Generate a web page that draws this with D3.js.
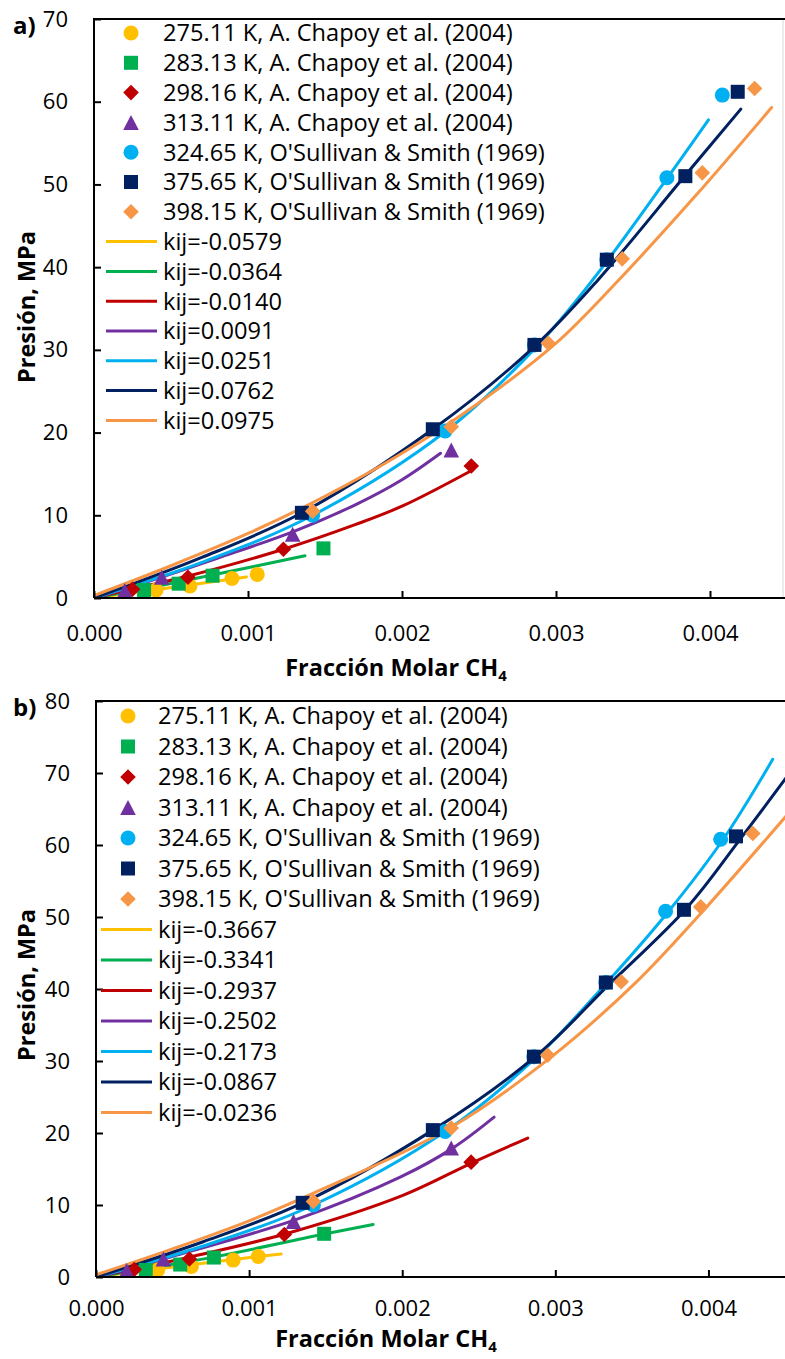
<!DOCTYPE html>
<html><head><meta charset="utf-8">
<script src="https://cdn.jsdelivr.net/npm/d3@7"></script>
<style>body{margin:0;background:#fff} svg{display:block;font-family:"Open Sans",sans-serif}</style>
</head><body>
<svg id="c" width="785" height="1359"></svg>
<script>
// ---------- Experimental data (same in both panels) ----------
const seriesLabels = [
  "275.11 K, A. Chapoy et al. (2004)",
  "283.13 K, A. Chapoy et al. (2004)",
  "298.16 K, A. Chapoy et al. (2004)",
  "313.11 K, A. Chapoy et al. (2004)",
  "324.65 K, O'Sullivan & Smith (1969)",
  "375.65 K, O'Sullivan & Smith (1969)",
  "398.15 K, O'Sullivan & Smith (1969)"
];
const seriesColors = ["#FFC000", "#00B050", "#C00000", "#7030A0", "#00B0F0", "#002060", "#F79646"];
const seriesShapes = ["circle", "square", "diamond", "triangle", "circle", "square", "diamond"];

const x_275 = [0.000403, 0.000623, 0.000896, 0.00106];
const p_275 = [0.97, 1.45, 2.35, 2.85];
const x_283 = [0.000325, 0.00055, 0.00077, 0.00149];
const p_283 = [0.97, 1.73, 2.7, 6.0];
const x_298 = [0.00025, 0.00061, 0.00123, 0.00245];
const p_298 = [1.05, 2.5, 5.9, 15.95];
const x_313 = [0.0002, 0.00044, 0.00129, 0.00232];
const p_313 = [0.9, 2.5, 7.7, 17.9];
const x_324 = [0.00142, 0.00228, 0.00286, 0.00333, 0.00372, 0.00408];
const p_324 = [10.0, 20.2, 30.6, 40.9, 50.8, 60.8];
const x_375 = [0.00135, 0.0022, 0.00286, 0.00333, 0.00384, 0.00418];
const p_375 = [10.3, 20.4, 30.6, 40.9, 51.0, 61.2];
const x_398 = [0.00142, 0.00232, 0.00295, 0.00343, 0.00395, 0.00429];
const p_398 = [10.5, 20.7, 30.8, 41.0, 51.4, 61.6];
const expX = [x_275, x_283, x_298, x_313, x_324, x_375, x_398];
const expP = [p_275, p_283, p_298, p_313, p_324, p_375, p_398];

// ---------- Model curves, panel a ----------
const kijA = ["kij=-0.0579", "kij=-0.0364", "kij=-0.0140", "kij=0.0091", "kij=0.0251", "kij=0.0762", "kij=0.0975"];
const a_x0 = [0, 0.0004, 0.00099];                 const a_p0 = [0, 1.0, 2.55];
const a_x1 = [0, 0.0004, 0.0008, 0.00137];         const a_p1 = [0, 1.4, 2.9, 5.1];
const a_x2 = [0, 0.00025, 0.0006, 0.00123, 0.0017, 0.002, 0.00244];
const a_p2 = [0, 1.1, 2.6, 5.9, 8.9, 11.1, 15.3];
const a_x3 = [0, 0.0004, 0.0008, 0.00129, 0.0017, 0.002, 0.00225];
const a_p3 = [0, 2.3, 4.8, 8.0, 11.3, 14.3, 17.5];
const a_x4 = [0, 0.0007, 0.00142, 0.00228, 0.00287, 0.00324, 0.00372, 0.00399];
const a_p4 = [0, 4.3, 10.0, 20.1, 30.3, 38.5, 50.7, 57.8];
const a_x5 = [0, 0.0007, 0.00135, 0.0022, 0.00286, 0.00327, 0.00384, 0.0042];
const a_p5 = [0, 4.9, 10.3, 20.4, 30.4, 38.4, 51.1, 59.1];
const a_x6 = [0, 0.0005, 0.001, 0.0015, 0.002, 0.0025, 0.003, 0.0034, 0.0039, 0.0044];
const a_p6 = [0.3, 3.9, 7.8, 12.3, 17.5, 23.6, 30.8, 38.3, 48.5, 59.3];

// ---------- Model curves, panel b ----------
const kijB = ["kij=-0.3667", "kij=-0.3341", "kij=-0.2937", "kij=-0.2502", "kij=-0.2173", "kij=-0.0867", "kij=-0.0236"];
const b_x0 = [0, 0.0004, 0.0008, 0.00121];         const b_p0 = [0, 1.1, 2.2, 3.2];
const b_x1 = [0, 0.0004, 0.0008, 0.0015, 0.00181]; const b_p1 = [0, 1.4, 2.9, 6.0, 7.3];
const b_x2 = [0, 0.00025, 0.0006, 0.00124, 0.002, 0.00246, 0.00282];
const b_p2 = [0, 1.1, 2.7, 6.0, 11.3, 15.9, 19.3];
const b_x3 = [0, 0.0002, 0.00044, 0.00131, 0.00199, 0.00233, 0.0026];
const b_p3 = [0, 1.0, 2.5, 8.0, 13.9, 17.9, 22.2];
const b_x4 = [0, 0.0007, 0.00142, 0.00228, 0.00287, 0.00332, 0.00374, 0.0041, 0.00442];
const b_p4 = [0, 4.3, 10.0, 20.2, 30.4, 40.5, 50.8, 60.9, 71.9];
const b_x5 = [0, 0.0007, 0.00135, 0.0022, 0.00288, 0.00334, 0.00386, 0.0042, 0.0046];
const b_p5 = [0, 4.9, 10.3, 20.4, 30.8, 40.4, 51.3, 60.6, 72.0];
const b_x6 = [0, 0.0005, 0.001, 0.0015, 0.00232, 0.00297, 0.00353, 0.00395, 0.0046];
const b_p6 = [0.3, 3.9, 7.8, 12.4, 20.8, 30.5, 41.0, 50.5, 66.3];

const xTicks = [0, 0.001, 0.002, 0.003, 0.004];
const yTicksA = [0, 10, 20, 30, 40, 50, 60, 70];
const yTicksB = [0, 10, 20, 30, 40, 50, 60, 70, 80];

const svg = d3.select("#c");

function symbolPath(shape) {
  if (shape === "circle") return "M7.5,0A7.5,7.5 0 1,1 -7.5,0A7.5,7.5 0 1,1 7.5,0Z";
  if (shape === "square") return "M-7,-7H7V7H-7Z";
  if (shape === "diamond") return "M0,-7.8L7.8,0L0,7.8L-7.8,0Z";
  return "M0,-7.5L7.8,7.5L-7.8,7.5Z";
}

function panel(cfg) {
  const g = svg.append("g");
  const x = d3.scaleLinear().domain([0, 0.0045]).range([cfg.left, cfg.right]);
  const y = d3.scaleLinear().domain([0, cfg.yMax]).range([cfg.bottom, cfg.top]);
  const clipId = "clip" + cfg.id;
  svg.append("clipPath").attr("id", clipId).append("rect")
    .attr("x", cfg.left).attr("y", cfg.top - 10).attr("width", cfg.right - cfg.left).attr("height", cfg.bottom - cfg.top + 10);

  if (cfg.rightEdge) {
    g.append("line").attr("x1", cfg.rightEdge).attr("x2", cfg.rightEdge)
      .attr("y1", cfg.top).attr("y2", cfg.bottom).attr("stroke", "#d9d9d9").attr("stroke-width", 1);
  }

  // model lines
  const lineGen = d3.line().x(d => x(d[0])).y(d => y(d[1])).curve(d3.curveCatmullRom.alpha(0.5));
  const lg = g.append("g").attr("clip-path", `url(#${clipId})`);
  cfg.lx.forEach((xs, i) => {
    lg.append("path").attr("d", lineGen(xs.map((v, j) => [v, cfg.lp[i][j]])))
      .attr("fill", "none").attr("stroke", seriesColors[i]).attr("stroke-width", 3)
      .attr("stroke-linecap", "round");
  });

  // markers (drawn on top of the lines)
  expX.forEach((xs, i) => {
    g.append("g").selectAll("path").data(xs.map((v, j) => [v, expP[i][j]])).join("path")
      .attr("d", symbolPath(seriesShapes[i]))
      .attr("transform", d => `translate(${x(d[0])},${y(d[1])})`)
      .attr("fill", seriesColors[i]);
  });

  // axes
  const yAxis = d3.axisLeft(y).tickValues(cfg.yTicks).tickSize(-7).tickPadding(26).tickFormat(d3.format("d"));
  const ya = g.append("g").attr("transform", `translate(${cfg.left},0)`).call(yAxis);
  const xAxis = d3.axisBottom(x).tickValues(xTicks).tickSize(-7).tickPadding(28).tickFormat(d3.format(".3f"));
  const xa = g.append("g").attr("transform", `translate(0,${cfg.bottom})`).call(xAxis);
  [ya, xa].forEach(a => {
    a.select(".domain").attr("stroke", "#000").attr("stroke-width", 2);
    a.selectAll(".tick line").attr("stroke", "#000").attr("stroke-width", 2);
    a.selectAll(".tick text").attr("font-size", 22).attr("fill", "#000").attr("font-family", "Open Sans");
  });
  ya.select(".domain").attr("d", `M0,${cfg.bottom}V${cfg.top}`);
  xa.select(".domain").attr("d", `M${cfg.left},0H${cfg.right}`);
  xa.selectAll(".tick text").attr("dy", "0.35em").attr("y", cfg.xLabelY - cfg.bottom);
  // top frame
  g.append("line").attr("x1", cfg.left - 1).attr("x2", cfg.right).attr("y1", cfg.top).attr("y2", cfg.top)
    .attr("stroke", "#000").attr("stroke-width", 2);

  // axis titles
  const xt = g.append("text").attr("x", cfg.xTitleX).attr("y", cfg.xTitleY).attr("text-anchor", "middle")
    .attr("font-weight", "bold").attr("font-size", 23.5).attr("fill", "#000");
  xt.append("tspan").text("Fracción Molar CH");
  xt.append("tspan").text("4").attr("font-size", 15).attr("dy", 5);
  g.append("text").attr("transform", `translate(${cfg.yTitleX},${cfg.yTitleY}) rotate(-90)`)
    .attr("text-anchor", "middle").attr("font-weight", "bold").attr("font-size", 23.5).attr("fill", "#000")
    .text("Presión, MPa");
  g.append("text").attr("x", 13).attr("y", cfg.labelY).attr("font-weight", "bold").attr("font-size", 24)
    .attr("fill", "#000").text(cfg.label);

  // legend
  const leg = g.append("g");
  seriesLabels.forEach((t, i) => {
    const yy = cfg.legY0 + i * cfg.legStep;
    leg.append("path").attr("d", symbolPath(seriesShapes[i])).attr("transform", `translate(${cfg.legMarkX},${yy})`)
      .attr("fill", seriesColors[i]);
    leg.append("text").attr("x", cfg.legTextX).attr("y", yy).attr("dy", "0.36em").attr("font-size", 23.6)
      .attr("fill", "#000").text(t);
  });
  cfg.kij.forEach((t, i) => {
    const yy = cfg.legY0 + (i + 7) * cfg.legStep;
    leg.append("line").attr("x1", cfg.legLineX0).attr("x2", cfg.legLineX1).attr("y1", yy).attr("y2", yy)
      .attr("stroke", seriesColors[i]).attr("stroke-width", 3);
    leg.append("text").attr("x", cfg.legTextX).attr("y", yy).attr("dy", "0.36em").attr("font-size", 23.6)
      .attr("fill", "#000").text(t);
  });
}

panel({
  id: "a", left: 94, right: 787, top: 19, bottom: 598, yMax: 70, yTicks: yTicksA,
  lx: [a_x0, a_x1, a_x2, a_x3, a_x4, a_x5, a_x6], lp: [a_p0, a_p1, a_p2, a_p3, a_p4, a_p5, a_p6],
  kij: kijA, xLabelY: 633, xTitleX: 396, xTitleY: 676, yTitleX: 35, yTitleY: 307,
  label: "a)", labelY: 34, legY0: 33, legStep: 29.8, legMarkX: 131, legTextX: 163,
  legLineX0: 106, legLineX1: 157, rightEdge: 783
});
panel({
  id: "b", left: 96, right: 785, top: 701, bottom: 1277, yMax: 80, yTicks: yTicksB,
  lx: [b_x0, b_x1, b_x2, b_x3, b_x4, b_x5, b_x6], lp: [b_p0, b_p1, b_p2, b_p3, b_p4, b_p5, b_p6],
  kij: kijB, xLabelY: 1308, xTitleX: 386, xTitleY: 1347, yTitleX: 35, yTitleY: 985,
  label: "b)", labelY: 716, legY0: 716, legStep: 30.5, legMarkX: 128, legTextX: 158,
  legLineX0: 101, legLineX1: 152
});
</script>
</body></html>
